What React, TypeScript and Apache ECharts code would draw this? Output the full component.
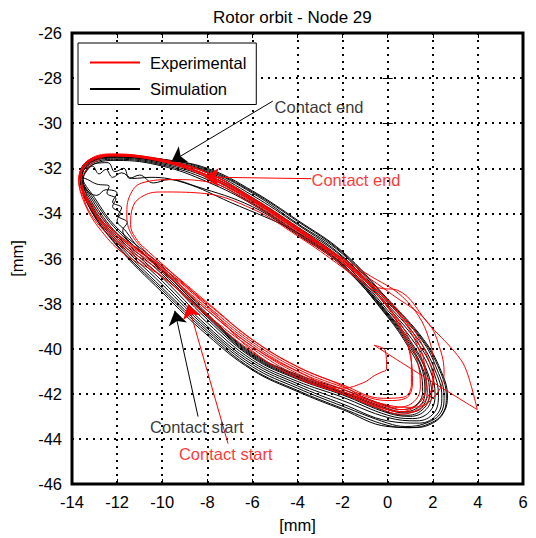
import React, { useEffect, useRef } from 'react';
import * as echarts from 'echarts';

const FONT = '"Liberation Sans", Arial, Helvetica, sans-serif';
const X_MIN = -14;
const X_MAX = 6;
const Y_MIN = -46;
const Y_MAX = -26;
const STEP = 2;

// Simulation orbit loops (black)
const simLoop1 = [[-13.5,-32.35],[-13.0,-31.8],[-12.0,-31.65],[-10.0,-31.9],[-8.0,-32.6],[-6.0,-33.6],[-4.0,-34.9],[-2.0,-36.3],[0.0,-38.6],[0.9,-39.9],[1.45,-41.0],[1.55,-41.9],[1.25,-42.5],[0.6,-42.7],[0.0,-42.55],[-2.0,-41.8],[-4.0,-41.15],[-6.0,-40.2],[-8.0,-38.45],[-10.0,-36.35],[-12.0,-34.65],[-13.0,-33.3]];
const simLoop2 = [[-13.55,-32.3],[-13.05,-31.75],[-12.0,-31.6],[-10.0,-31.85],[-8.0,-32.5],[-6.0,-33.55],[-4.0,-34.85],[-2.0,-36.25],[0.0,-38.5],[1.0,-39.85],[1.6,-41.0],[1.75,-41.95],[1.5,-42.6],[0.8,-42.85],[0.0,-42.7],[-2.0,-41.95],[-4.0,-41.25],[-6.0,-40.3],[-8.0,-38.55],[-10.0,-36.5],[-12.0,-34.75],[-13.05,-33.35]];
const simLoop3 = [[-13.6,-32.3],[-13.1,-31.7],[-12.0,-31.55],[-10.0,-31.8],[-8.0,-32.4],[-6.0,-33.45],[-4.0,-34.75],[-2.0,-36.15],[0.0,-38.4],[1.1,-39.8],[1.75,-41.0],[1.95,-42.0],[1.7,-42.7],[1.0,-43.0],[0.0,-42.85],[-2.0,-42.05],[-4.0,-41.35],[-6.0,-40.4],[-8.0,-38.7],[-10.0,-36.7],[-12.0,-34.9],[-13.1,-33.4]];
const simLoopW1 = [[-13.6,-32.3],[-13.1,-31.9],[-12.8,-32.25],[-12.5,-32.05],[-12.2,-32.4],[-11.8,-32.2],[-11.3,-32.45],[-10.5,-32.4],[-9.0,-32.65],[-7.0,-33.5],[-4.0,-34.85],[-2.0,-36.25],[0.0,-38.45],[1.1,-39.9],[1.7,-41.0],[1.85,-42.0],[1.6,-42.65],[0.9,-42.95],[0.0,-42.8],[-2.0,-42.0],[-4.0,-41.3],[-6.0,-40.35],[-8.0,-38.6],[-10.0,-36.6],[-11.0,-35.6],[-11.6,-34.8],[-12.0,-34.3],[-11.85,-34.0],[-12.2,-33.7],[-12.05,-33.35],[-12.45,-33.1],[-12.35,-32.8],[-12.9,-32.7],[-13.3,-32.5]];
const simLoop4 = [[-13.55,-32.35],[-13.1,-31.7],[-12.0,-31.5],[-10.0,-31.75],[-8.0,-32.3],[-6.0,-33.35],[-4.0,-34.65],[-2.0,-36.05],[0.0,-38.3],[1.2,-39.75],[1.9,-41.0],[2.1,-42.05],[1.85,-42.8],[1.1,-43.1],[0.0,-42.95],[-2.0,-42.15],[-4.0,-41.45],[-6.0,-40.5],[-8.0,-38.85],[-10.0,-36.85],[-12.0,-35.0],[-13.15,-33.45]];
const simLoop5 = [[-13.6,-32.3],[-13.1,-31.65],[-12.0,-31.5],[-10.0,-31.7],[-8.0,-32.2],[-6.0,-33.3],[-4.0,-34.6],[-2.0,-35.95],[0.0,-38.15],[1.3,-39.7],[2.0,-40.95],[2.25,-42.05],[2.05,-42.85],[1.3,-43.2],[0.0,-43.05],[-2.0,-42.3],[-4.0,-41.55],[-6.0,-40.6],[-8.0,-39.0],[-10.0,-37.0],[-12.0,-35.1],[-13.2,-33.5]];
const simLoopW2 = [[-13.5,-32.5],[-13.0,-31.8],[-12.4,-31.75],[-12.1,-32.15],[-11.7,-32.0],[-11.45,-32.45],[-11.0,-32.3],[-10.4,-32.65],[-9.7,-32.5],[-8.5,-32.8],[-6.0,-33.7],[-4.0,-34.95],[-2.0,-36.35],[0.0,-38.55],[1.0,-39.95],[1.55,-41.0],[1.65,-41.95],[1.4,-42.55],[0.7,-42.8],[0.0,-42.65],[-2.0,-41.9],[-4.0,-41.2],[-6.0,-40.25],[-8.0,-38.5],[-9.5,-37.0],[-10.6,-36.0],[-11.3,-35.4],[-11.75,-34.75],[-11.55,-34.4],[-11.95,-34.1],[-11.8,-33.75],[-12.2,-33.5],[-12.0,-33.1],[-12.5,-32.95],[-12.9,-33.2],[-13.4,-32.9]];
const simLoop6 = [[-13.6,-32.25],[-13.1,-31.65],[-12.0,-31.5],[-10.0,-31.7],[-8.0,-32.15],[-6.0,-33.2],[-4.0,-34.5],[-2.0,-35.9],[0.0,-38.05],[1.4,-39.65],[2.1,-40.95],[2.4,-42.1],[2.2,-42.9],[1.4,-43.3],[0.0,-43.2],[-2.0,-42.45],[-4.0,-41.65],[-6.0,-40.7],[-8.0,-39.1],[-10.0,-37.15],[-12.0,-35.2],[-13.25,-33.5]];
const simLoop7 = [[-13.65,-32.3],[-13.15,-31.6],[-12.0,-31.45],[-10.0,-31.65],[-8.0,-32.1],[-6.0,-33.1],[-4.0,-34.45],[-2.0,-35.8],[0.0,-37.95],[1.5,-39.6],[2.2,-40.95],[2.5,-42.1],[2.35,-42.85],[1.7,-43.3],[0.8,-43.45],[0.0,-43.3],[-2.0,-42.55],[-4.0,-41.75],[-6.0,-40.8],[-8.0,-39.2],[-10.0,-37.3],[-12.0,-35.3],[-13.3,-33.55]];
const simLoop8 = [[-13.6,-32.3],[-13.1,-31.6],[-12.0,-31.45],[-10.0,-31.6],[-8.0,-32.05],[-6.0,-33.05],[-4.0,-34.35],[-2.0,-35.75],[0.0,-37.85],[1.55,-39.6],[2.3,-40.95],[2.6,-42.1],[2.45,-42.85],[1.9,-43.3],[1.0,-43.5],[0.0,-43.4],[-2.0,-42.65],[-4.0,-41.85],[-6.0,-40.9],[-8.0,-39.3],[-10.0,-37.4],[-12.0,-35.4],[-13.3,-33.6]];
const simLoop9 = [[-13.65,-32.25],[-13.15,-31.6],[-12.0,-31.45],[-10.0,-31.6],[-8.0,-32.0],[-6.0,-33.0],[-4.0,-34.3],[-2.0,-35.7],[0.0,-37.8],[1.6,-39.6],[2.35,-40.95],[2.65,-42.1],[2.5,-42.8],[2.0,-43.3],[1.2,-43.5],[0.0,-43.45],[-2.0,-42.7],[-4.0,-41.9],[-6.0,-40.95],[-8.0,-39.4],[-10.0,-37.5],[-12.0,-35.45],[-13.3,-33.6],[-13.6,-32.3]];

// Experimental orbit loops (red)
const expLoop1 = [[-13.6,-32.4],[-13.0,-31.7],[-12.0,-31.4],[-10.0,-31.7],[-8.0,-32.4],[-6.0,-33.5],[-4.0,-34.8],[-2.0,-36.2],[-0.5,-37.5],[0.5,-38.9],[1.0,-40.3],[1.1,-41.5],[0.8,-42.2],[0.0,-42.3],[-2.0,-41.7],[-4.0,-40.9],[-6.0,-39.7],[-8.0,-38.1],[-10.0,-36.4],[-12.0,-34.9],[-13.1,-33.6]];
const expLoop2 = [[-13.7,-32.5],[-13.2,-31.6],[-12.1,-31.36],[-10.0,-31.65],[-8.0,-32.3],[-6.0,-33.4],[-4.0,-34.7],[-2.0,-36.1],[-0.5,-37.4],[0.8,-38.9],[1.5,-40.4],[1.7,-41.6],[1.4,-42.4],[0.6,-42.7],[-0.5,-42.4],[-2.0,-41.8],[-4.0,-41.0],[-6.0,-39.8],[-8.0,-38.2],[-9.73,-36.7],[-10.6,-35.83],[-11.35,-34.95],[-11.57,-34.07],[-11.43,-33.2],[-10.9,-32.65],[-9.5,-32.5],[-8.0,-32.6],[-6.0,-33.6],[-4.0,-34.9],[-2.0,-36.3],[-0.3,-37.8],[0.7,-39.1],[1.3,-40.5],[1.45,-41.7],[1.1,-42.4],[0.3,-42.6],[-0.8,-42.3],[-2.0,-41.65],[-4.0,-40.8],[-6.0,-39.6],[-8.0,-38.0],[-10.0,-36.4],[-12.0,-35.0],[-13.2,-33.7]];
const expLoop3 = [[-13.6,-32.3],[-13.1,-31.6],[-12.0,-31.4],[-10.0,-31.6],[-8.0,-32.2],[-6.0,-33.3],[-4.0,-34.6],[-1.5,-36.4],[0.2,-37.6],[1.75,-38.8],[2.35,-40.1],[2.5,-41.1],[1.9,-42.3],[1.0,-42.6],[0.0,-42.5],[-2.0,-41.9],[-4.0,-41.2],[-6.0,-40.0],[-8.0,-38.5],[-10.0,-36.8],[-11.65,-35.83],[-12.68,-34.8],[-13.41,-33.63]];
const expLoop4 = [[-13.7,-32.45],[-13.2,-31.65],[-12.1,-31.45],[-10.0,-31.7],[-8.0,-32.3],[-6.0,-33.4],[-4.0,-34.7],[-1.05,-36.6],[0.86,-37.9],[1.9,-39.8],[2.05,-41.25],[1.45,-42.55],[0.6,-42.9],[-0.5,-42.6],[-2.0,-42.0],[-4.0,-41.3],[-6.0,-40.1],[-8.0,-38.1],[-9.6,-36.6],[-10.6,-35.7],[-11.1,-35.2],[-11.4,-34.5],[-11.3,-33.7],[-10.8,-33.2],[-10.0,-33.05],[-8.3,-33.1],[-6.0,-33.8],[-4.0,-35.0],[-2.0,-36.4],[-0.4,-37.7],[0.6,-39.2],[1.05,-40.6],[1.05,-41.6],[0.7,-42.15],[-0.2,-42.2],[-2.0,-41.6],[-4.0,-40.8],[-6.0,-39.6],[-8.0,-37.95],[-10.0,-36.3],[-12.0,-34.9],[-13.1,-33.8]];
const expLoop5 = [[-13.6,-32.2],[-13.1,-31.55],[-12.0,-31.4],[-10.0,-31.65],[-8.0,-32.2],[-6.0,-33.35],[-4.0,-34.65],[-2.0,-36.05],[-0.4,-37.3],[0.42,-37.4],[1.9,-39.0],[3.1,-40.3],[3.5,-41.0],[3.97,-42.7],[1.7,-41.3],[-0.6,-39.85],[-0.1,-40.1],[-0.05,-40.9],[-0.3,-41.05],[-0.6,-41.2],[-1.06,-41.5],[-2.0,-41.75],[-4.0,-41.0],[-6.0,-39.9],[-8.0,-38.3],[-10.0,-36.5],[-12.0,-35.1],[-13.2,-33.7]];
const expLoop6 = [[-13.7,-32.6],[-13.3,-31.8],[-12.3,-31.45],[-10.0,-31.7],[-8.0,-32.35],[-6.0,-33.45],[-4.0,-34.75],[-2.0,-36.15],[-0.2,-37.7],[1.0,-39.1],[1.6,-40.5],[1.7,-41.7],[1.3,-42.5],[0.5,-42.8],[-0.5,-42.5],[-2.0,-41.9],[-4.0,-41.1],[-6.0,-39.9],[-8.0,-38.3],[-10.0,-36.6],[-12.0,-35.2],[-13.3,-33.5]];
const expLoop7 = [[-13.6,-32.2],[-13.1,-31.55],[-12.0,-31.4],[-10.0,-31.65],[-8.0,-32.2],[-6.0,-33.35],[-4.0,-34.65],[-2.0,-36.05],[-0.4,-37.45],[0.9,-38.8],[1.7,-40.2],[2.0,-41.4],[1.8,-42.3],[1.1,-42.8],[0.0,-42.7],[-2.0,-42.0],[-4.0,-41.3],[-6.0,-40.15],[-8.0,-38.55],[-10.0,-36.8],[-12.0,-35.3],[-13.3,-33.8],[-13.6,-32.4]];

// Annotations
const blackLabels = [
  { name: 'Contact end', value: [-5.04, -29.3] },
  { name: 'Contact start', value: [-10.56, -43.49] },
];
const blackArrows = [
  [[-5.095, -29.02], [-9.585, -31.7]],
  [[-8.41, -43.01], [-9.44, -38.32]],
];
const redLabels = [
  { name: 'Contact end', value: [-3.4, -32.51] },
  { name: 'Contact start', value: [-9.28, -44.68] },
];
const redArrows = [
  [[-3.4, -32.46], [-8.115, -32.39]],
  [[-7.08, -44.21], [-8.85, -38.03]],
];

const simData = [
  ...simLoop1, ...simLoop2, ...simLoop3, ...simLoopW1, ...simLoop4, ...simLoop5,
  ...simLoopW2, ...simLoop6, ...simLoop7, ...simLoop8, ...simLoop9,
];
const expData = [
  ...expLoop1, ...expLoop2, ...expLoop3, ...expLoop4, ...expLoop5, ...expLoop6, ...expLoop7,
];

const FS = 16.5;

function annotationSeries(name: string, color: string, labels: any[], arrows: number[][][]) {
  return {
    type: 'scatter',
    name,
    silent: true,
    symbol: 'circle',
    symbolSize: 1,
    itemStyle: { color: 'rgba(0,0,0,0)' },
    z: 5,
    label: {
      show: true,
      position: 'right',
      distance: 0,
      formatter: '{b}',
      color,
      fontSize: FS,
      fontFamily: FONT,
    },
    data: labels,
    markLine: {
      silent: true,
      symbol: ['none', 'arrow'],
      symbolSize: 14,
      lineStyle: { color, width: 1, type: 'solid' },
      itemStyle: { color },
      label: { show: false },
      data: arrows.map(([a, b]) => [{ coord: a }, { coord: b }]),
    },
  };
}

export default function App() {
  const ref = useRef<HTMLDivElement>(null);
  useEffect(() => {
    document.body.style.margin = '0';
    const chart = echarts.init(ref.current!, null, { renderer: 'svg' });
    const baseX = { type: 'value', min: X_MIN, max: X_MAX, interval: STEP };
    const baseY = { type: 'value', min: Y_MIN, max: Y_MAX, interval: STEP };
    chart.setOption({
      animation: false,
      backgroundColor: '#fff',
      textStyle: { fontFamily: FONT },
      title: {
        text: 'Rotor orbit - Node 29',
        left: 208,
        top: 4,
        textStyle: { fontSize: 17, fontWeight: 'normal', color: '#000', fontFamily: FONT },
      },
      grid: {
        left: 70, right: 13, top: 33, bottom: 50,
        show: true, borderColor: '#000', borderWidth: 3, backgroundColor: '#fff',
      },
      legend: {
        data: ['Experimental', 'Simulation'],
        orient: 'vertical',
        left: 78,
        top: 43,
        itemWidth: 50,
        itemHeight: 2,
        icon: 'rect',
        itemGap: 9.5,
        padding: [11, 10, 7, 12],
        borderColor: '#000',
        borderWidth: 1,
        backgroundColor: '#fff',
        selectedMode: false,
        z: 10,
        textStyle: { fontSize: FS, color: '#000', fontFamily: FONT, padding: [0, 0, 0, 5] },
      },
      xAxis: [
        {
          ...baseX,
          name: '[mm]',
          nameLocation: 'middle',
          nameGap: 32,
          nameTextStyle: { fontSize: FS, color: '#000', fontFamily: FONT },
          axisLine: { show: false },
          axisTick: { show: true, inside: true, length: 5, lineStyle: { color: '#000', width: 1 } },
          axisLabel: { fontSize: FS, color: '#000', margin: 9, showMinLabel: true, showMaxLabel: true, fontFamily: FONT },
          splitLine: { show: true, lineStyle: { color: '#000', width: 2, type: [2, 5] } },
        },
        {
          ...baseX,
          position: 'top',
          axisLine: { show: false },
          axisTick: { show: true, inside: true, length: 5, lineStyle: { color: '#000', width: 1 } },
          axisLabel: { show: false },
          splitLine: { show: false },
        },
      ],
      yAxis: [
        {
          ...baseY,
          name: '[mm]',
          nameLocation: 'middle',
          nameGap: 47,
          nameTextStyle: { fontSize: FS, color: '#000', fontFamily: FONT },
          axisLine: { show: false },
          axisTick: { show: true, inside: true, length: 5, lineStyle: { color: '#000', width: 1 } },
          axisLabel: { fontSize: FS, color: '#000', margin: 10, showMinLabel: true, showMaxLabel: true, fontFamily: FONT },
          splitLine: { show: true, lineStyle: { color: '#000', width: 2, type: [2, 5] } },
        },
        {
          ...baseY,
          position: 'right',
          axisLine: { show: false },
          axisTick: { show: true, inside: true, length: 5, lineStyle: { color: '#000', width: 1 } },
          axisLabel: { show: false },
          splitLine: { show: false },
        },
      ],
      series: [
        {
          type: 'line',
          name: 'Simulation',
          data: simData,
          showSymbol: false,
          symbol: 'none',
          smooth: 0.4,
          silent: true,
          z: 2,
          lineStyle: { color: '#000', width: 1 },
          itemStyle: { color: '#000' },
        },
        {
          type: 'line',
          name: 'Experimental',
          data: expData,
          showSymbol: false,
          symbol: 'none',
          smooth: 0.4,
          silent: true,
          z: 3,
          lineStyle: { color: '#ff0000', width: 1 },
          itemStyle: { color: '#ff0000' },
        },
        annotationSeries('annBlack', '#000', blackLabels, blackArrows),
        annotationSeries('annRed', '#ff0000', redLabels, redArrows),
      ],
    });
    return () => chart.dispose();
  }, []);
  return <div ref={ref} style={{ width: 536, height: 538 }} />;
}
